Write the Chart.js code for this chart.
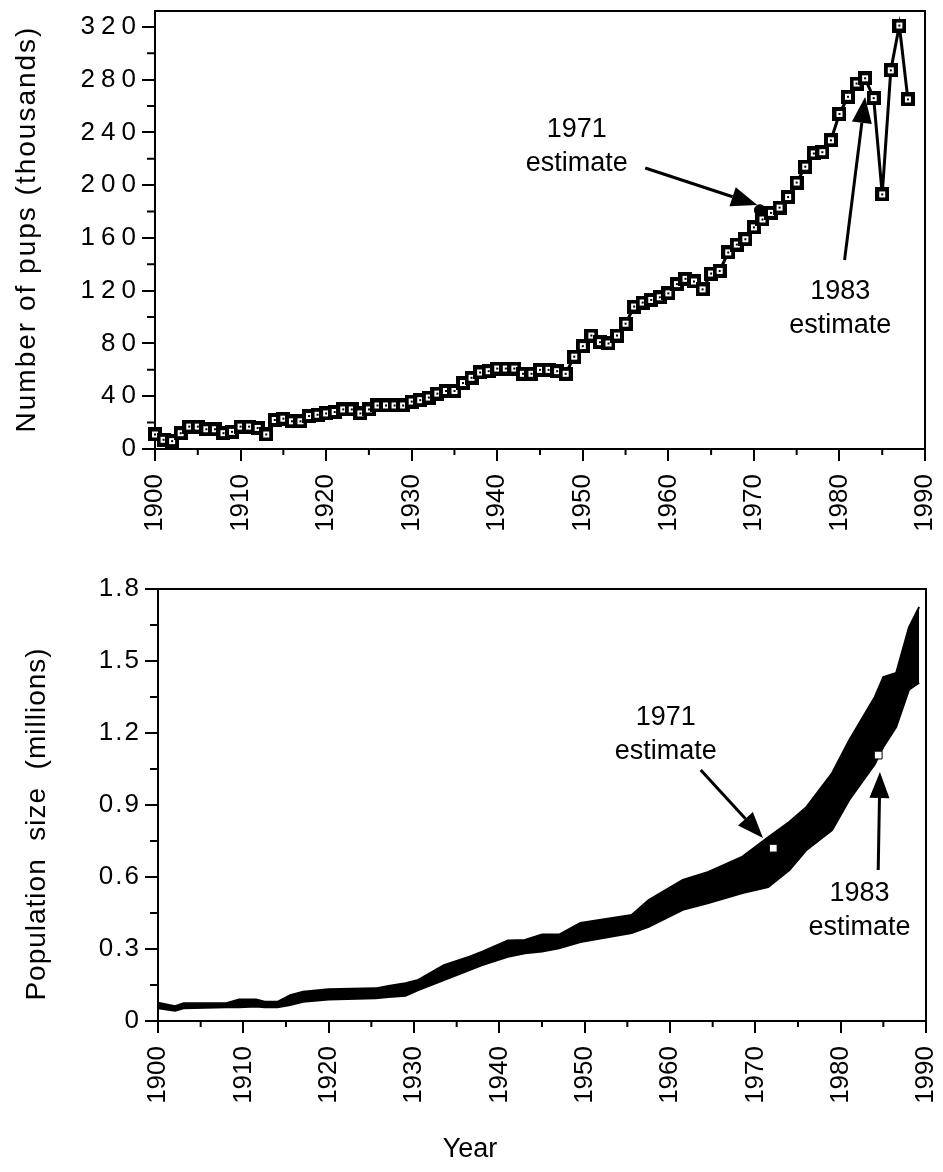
<!DOCTYPE html>
<html>
<head>
<title>Pup production and population size, 1900-1988</title>
<script src="https://cdn.jsdelivr.net/npm/chart.js@4"></script>
<style>
  body { margin: 0; background: #fff; }
  #wrap { position: relative; width: 943px; height: 1172px; }
  canvas { position: absolute; left: 0; }
</style>
</head>
<body>
<div id="wrap">
  <canvas id="pupChart" width="943" height="545" style="top:0"></canvas>
  <canvas id="popChart" width="943" height="627" style="top:545px"></canvas>
</div>
<script>
// ---- data ----
const pupYears = [
  1900, 1901, 1902, 1903, 1904, 1905, 1906, 1907, 1908, 1909,
  1910, 1911, 1912, 1913, 1914, 1915, 1916, 1917, 1918, 1919,
  1920, 1921, 1922, 1923, 1924, 1925, 1926, 1927, 1928, 1929,
  1930, 1931, 1932, 1933, 1934, 1935, 1936, 1937, 1938, 1939,
  1940, 1941, 1942, 1943, 1944, 1945, 1946, 1947, 1948, 1949,
  1950, 1951, 1952, 1953, 1954, 1955, 1956, 1957, 1958, 1959,
  1960, 1961, 1962, 1963, 1964, 1965, 1966, 1967, 1968, 1969,
  1970, 1971, 1972, 1973, 1974, 1975, 1976, 1977, 1978, 1979,
  1980, 1981, 1982, 1983, 1984, 1985, 1986, 1987, 1988
];
// pups born, thousands
const pupCounts = [
  11, 7, 6, 12, 17, 17, 15, 15, 12, 13,
  17, 17, 16, 11, 22, 23, 21, 21, 25, 26,
  27, 28, 30, 30, 27, 30, 33, 33, 33, 33,
  36, 37, 39, 42, 44, 44, 50, 54, 58, 59,
  61, 61, 61, 57, 57, 60, 60, 59, 57, 70,
  78, 86, 81, 80, 86, 95, 108, 111, 113, 115,
  118, 125, 129, 127, 121, 133, 135, 149, 155, 159,
  168, 174, 179, 183, 191, 202, 214, 224, 225, 234,
  254, 267, 277, 281, 266, 193, 287, 321, 265
];
const pupEstYear = [1970.7];
const pupEstValue = [181];

// population envelope, millions
const bandYears = [1900, 1902, 1903, 1908, 1909.5, 1911.5, 1912.5, 1914, 1915.5, 1917,
  1920, 1925.5, 1927, 1929, 1930.5, 1933.5, 1936.5, 1938, 1941, 1943,
  1945, 1947, 1949.5, 1955.5, 1957.5, 1961.5, 1964.5, 1968.5, 1971.5, 1974,
  1976, 1979, 1981, 1984, 1985, 1986.5, 1988, 1989.2];
const bandUpper = [0.076, 0.062, 0.074, 0.074, 0.09, 0.09, 0.08, 0.08, 0.108, 0.122,
  0.132, 0.136, 0.146, 0.157, 0.171, 0.233, 0.268, 0.289, 0.335, 0.338,
  0.36, 0.36, 0.408, 0.442, 0.504, 0.588, 0.621, 0.685, 0.765, 0.83,
  0.892, 1.033, 1.17, 1.35, 1.433, 1.45, 1.64, 1.725];
const bandLower = [0.053, 0.043, 0.053, 0.057, 0.057, 0.06, 0.057, 0.057, 0.067, 0.08,
  0.09, 0.095, 0.1, 0.105, 0.129, 0.171, 0.212, 0.233, 0.268, 0.282,
  0.29, 0.303, 0.329, 0.367, 0.392, 0.463, 0.492, 0.533, 0.558, 0.629,
  0.713, 0.796, 0.921, 1.07, 1.142, 1.225, 1.38, 1.41];
const popEstYears = [1972.1, 1984.4];
const popEstValues = [0.72, 1.108];

// ticks
const yearTicks = [1900, 1910, 1920, 1930, 1940, 1950, 1960, 1970, 1980, 1990];
const yearLabels = ['1900', '1910', '1920', '1930', '1940', '1950', '1960', '1970', '1980', '1990'];
const yearMinor = [1905, 1915, 1925, 1935, 1945, 1955, 1965, 1975, 1985];
const pupTicks = [0, 40, 80, 120, 160, 200, 240, 280, 320];
const pupTickLabels = ['0', '40', '80', '120', '160', '200', '240', '280', '320'];
const pupMinor = [20, 60, 100, 140, 180, 220, 260, 300];
const popTicks = [0, 0.3, 0.6, 0.9, 1.2, 1.5, 1.8];
const popTickLabels = ['0', '0.3', '0.6', '0.9', '1.2', '1.5', '1.8'];
const popMinor = [0.15, 0.45, 0.75, 1.05, 1.35, 1.65];

// ---- drawing helpers ----
const FONT = "'Liberation Sans', Arial, Helvetica, sans-serif";

function squareMarker() {
  const c = document.createElement('canvas');
  c.width = 14; c.height = 14;
  const g = c.getContext('2d');
  g.fillStyle = '#000'; g.fillRect(0, 0, 14, 14);
  g.fillStyle = '#fff'; g.fillRect(4, 4, 6, 6);
  g.fillStyle = '#000'; g.fillRect(6, 6, 2, 2);
  return c;
}

// closes the box and adds the short unlabelled ticks
const frame = {
  id: 'frame',
  afterDraw(chart, args, o) {
    const { ctx, chartArea: a, scales: { x, y } } = chart;
    ctx.save();
    ctx.strokeStyle = '#000';
    ctx.lineWidth = 2;
    ctx.beginPath();
    ctx.moveTo(a.left, a.top);
    ctx.lineTo(a.right, a.top);
    ctx.lineTo(a.right, a.bottom);
    o.xMinor.forEach(v => {
      const px = x.getPixelForValue(v);
      ctx.moveTo(px, a.bottom);
      ctx.lineTo(px, a.bottom + 6);
    });
    o.yMinor.forEach(v => {
      const py = y.getPixelForValue(v);
      ctx.moveTo(a.left, py);
      ctx.lineTo(a.left - 8, py);
    });
    ctx.stroke();
    ctx.restore();
  }
};

// wider spacing for the y tick numbers
const spacedTicks = {
  id: 'spacedTicks',
  beforeDraw(chart, args, o) {
    const s = chart.scales.y;
    if (!s || s._spaced) return;
    const orig = s.drawLabels;
    s.drawLabels = function (area) {
      this.ctx.save();
      this.ctx.letterSpacing = o.spacing;
      orig.call(this, area);
      this.ctx.restore();
    };
    s._spaced = true;
  }
};

// "estimate" notes with arrows, positioned in data units
const notes = {
  id: 'notes',
  afterDatasetsDraw(chart, args, o) {
    const { ctx, scales: { x, y } } = chart;
    ctx.save();
    ctx.fillStyle = '#000';
    ctx.strokeStyle = '#000';
    ctx.font = '27px ' + FONT;
    ctx.textAlign = 'center';
    ctx.textBaseline = 'middle';
    o.items.forEach(n => {
      const tx = x.getPixelForValue(n.text[0]);
      const ty = y.getPixelForValue(n.text[1]);
      n.lines.forEach((t, i) => ctx.fillText(t, tx, ty + i * 34));

      const x0 = x.getPixelForValue(n.from[0]), y0 = y.getPixelForValue(n.from[1]);
      const x1 = x.getPixelForValue(n.to[0]), y1 = y.getPixelForValue(n.to[1]);
      const ang = Math.atan2(y1 - y0, x1 - x0);
      const head = 26, half = 10;
      const bx = x1 - head * Math.cos(ang), by = y1 - head * Math.sin(ang);
      ctx.lineWidth = 3;
      ctx.beginPath();
      ctx.moveTo(x0, y0);
      ctx.lineTo(bx, by);
      ctx.stroke();
      ctx.beginPath();
      ctx.moveTo(x1, y1);
      ctx.lineTo(bx + half * Math.sin(ang), by - half * Math.cos(ang));
      ctx.lineTo(bx - half * Math.sin(ang), by + half * Math.cos(ang));
      ctx.closePath();
      ctx.fill();
    });
    ctx.restore();
  }
};

// axis captions
const captions = {
  id: 'captions',
  afterDraw(chart, args, o) {
    const { ctx } = chart;
    ctx.save();
    ctx.fillStyle = '#000';
    ctx.textAlign = 'center';
    ctx.textBaseline = 'middle';
    o.items.forEach(c => {
      ctx.save();
      ctx.font = c.size + 'px ' + FONT;
      ctx.letterSpacing = c.spacing || '0px';
      ctx.translate(c.x, c.y);
      ctx.rotate(c.rotate ? -Math.PI / 2 : 0);
      ctx.fillText(c.text, 0, 0);
      ctx.restore();
    });
    ctx.restore();
  }
};

function yearAxis(height) {
  return {
    type: 'linear',
    min: 1900,
    max: 1990,
    afterBuildTicks: s => { s.ticks = yearTicks.map(v => ({ value: v })); },
    afterFit: s => { s.height = height; s.paddingLeft = 0; s.paddingRight = 0; },
    ticks: {
      autoSkip: false,
      minRotation: 90,
      maxRotation: 90,
      padding: 13,
      color: '#000',
      font: { family: FONT, size: 26 },
      callback: (v, i) => yearLabels[i]
    },
    grid: { drawOnChartArea: false, tickLength: 12, color: '#000', lineWidth: 2 },
    border: { color: '#000', width: 2 }
  };
}

function valueAxis(max, ticks, labels, width, pad) {
  return {
    type: 'linear',
    min: 0,
    max: max,
    afterBuildTicks: s => { s.ticks = ticks.map(v => ({ value: v })); },
    afterFit: s => { s.width = width; s.paddingTop = 0; s.paddingBottom = 0; },
    ticks: {
      padding: pad,
      color: '#000',
      font: { family: FONT, size: 26 },
      callback: (v, i) => labels[i]
    },
    grid: { drawOnChartArea: false, tickLength: 13, color: '#000', lineWidth: 2 },
    border: { color: '#000', width: 2 }
  };
}

// ---- pups ----
new Chart(document.getElementById('pupChart'), {
  type: 'line',
  data: {
    datasets: [
      {
        label: 'Pups',
        data: pupYears.map((yr, i) => ({ x: yr, y: pupCounts[i] })),
        borderColor: '#000',
        borderWidth: 3,
        pointStyle: squareMarker(),
        pointRadius: 7,
        clip: false,
        order: 1
      },
      {
        label: '1971 estimate',
        data: pupEstYear.map((yr, i) => ({ x: yr, y: pupEstValue[i] })),
        showLine: false,
        pointStyle: 'circle',
        pointRadius: 5.5,
        backgroundColor: '#000',
        borderColor: '#000',
        order: 0
      }
    ]
  },
  options: {
    responsive: false,
    animation: false,
    layout: { padding: { top: 11, right: 18, left: 0, bottom: 0 } },
    plugins: {
      legend: { display: false },
      tooltip: { enabled: false },
      frame: { xMinor: yearMinor, yMinor: pupMinor },
      spacedTicks: { spacing: '6px' },
      notes: {
        items: [
          { lines: ['1971', 'estimate'], text: [1949.3, 241.8], from: [1957.3, 213.0], to: [1970.4, 185.0] },
          { lines: ['1983', 'estimate'], text: [1980.1, 119.0], from: [1980.6, 143.3], to: [1983.0, 266.9] }
        ]
      },
      captions: {
        items: [
          { text: 'Number of pups (thousands)', x: 27, y: 229, size: 28, spacing: '2px', rotate: true }
        ]
      }
    },
    scales: {
      x: yearAxis(96),
      y: valueAxis(332, pupTicks, pupTickLabels, 155, 0)
    }
  },
  plugins: [frame, spacedTicks, notes, captions]
});

// ---- population ----
new Chart(document.getElementById('popChart'), {
  type: 'line',
  data: {
    datasets: [
      {
        label: 'Lower',
        data: bandYears.map((yr, i) => ({ x: yr, y: bandLower[i] })),
        borderColor: '#000',
        borderWidth: 2,
        pointRadius: 0,
        fill: false,
        order: 1
      },
      {
        label: 'Upper',
        data: bandYears.map((yr, i) => ({ x: yr, y: bandUpper[i] })),
        borderColor: '#000',
        backgroundColor: '#000',
        borderWidth: 2,
        pointRadius: 0,
        fill: '-1',
        order: 1
      },
      {
        label: 'Estimates',
        data: popEstYears.map((yr, i) => ({ x: yr, y: popEstValues[i] })),
        showLine: false,
        pointStyle: 'rect',
        pointRadius: 5.5,
        backgroundColor: '#fff',
        borderColor: '#000',
        borderWidth: 1,
        order: 0
      }
    ]
  },
  options: {
    responsive: false,
    animation: false,
    layout: { padding: { top: 44, right: 17, left: 0, bottom: 0 } },
    plugins: {
      legend: { display: false },
      tooltip: { enabled: false },
      frame: { xMinor: yearMinor, yMinor: popMinor },
      spacedTicks: { spacing: '2px' },
      notes: {
        items: [
          { lines: ['1971', 'estimate'], text: [1959.5, 1.2625], from: [1963.6, 1.046], to: [1970.9, 0.7625] },
          { lines: ['1983', 'estimate'], text: [1982.2, 0.533], from: [1984.4, 0.629], to: [1984.6, 1.0375] }
        ]
      },
      captions: {
        items: [
          { text: 'Population  size  (millions)', x: 37, y: 279, size: 28, spacing: '1px', rotate: true },
          { text: 'Year', x: 470, y: 605, size: 27, rotate: false }
        ]
      }
    },
    scales: {
      x: yearAxis(151),
      y: valueAxis(1.8, popTicks, popTickLabels, 158, 4)
    }
  },
  plugins: [frame, spacedTicks, notes, captions]
});
</script>
</body>
</html>
